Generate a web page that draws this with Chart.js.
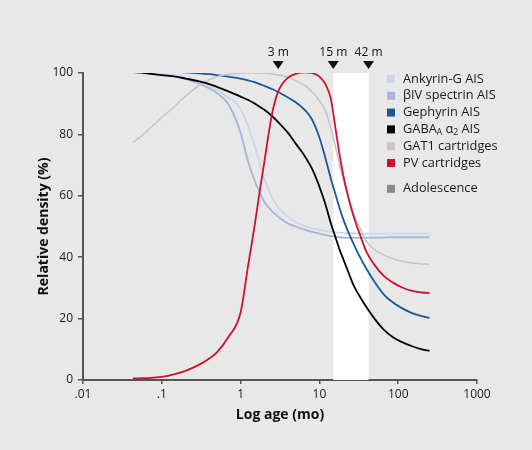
<!DOCTYPE html>
<html>
<head>
<meta charset="utf-8">
<script src="https://cdn.jsdelivr.net/npm/chart.js@4"></script>
<style>
  body { margin: 0; background: #e8e8e8; }
  canvas { display: block; }
</style>
</head>
<body>
<canvas id="myChart" width="532" height="450"></canvas>
<script>
// age in months (log axis)
const ages = [0.043, 0.06, 0.08, 0.1, 0.15, 0.2, 0.3, 0.4, 0.5, 0.7, 1, 1.25, 1.5, 1.75, 2, 2.5, 3, 4, 5, 6.5, 8, 10, 12, 14, 16, 18, 20, 23, 27, 32, 40, 50, 65, 85, 110, 150, 200, 250];

const ankyrinG = [100.3, 100.2, 100, 99.8, 99.2, 98.5, 97.2, 95.8, 94.5, 92, 88.3, 82.5, 76.5, 70.5, 65.5, 59.5, 56.2, 53.2, 51.5, 50.2, 49.4, 48.9, 48.5, 48.3, 48.1, 48, 47.9, 47.8, 47.8, 47.7, 47.7, 47.7, 47.7, 47.7, 47.7, 47.7, 47.7, 47.7];
const betaIV = [100.3, 100.2, 99.9, 99.6, 98.9, 98, 96.5, 95, 93.5, 89.8, 80.5, 71, 65, 61, 58, 55, 53.2, 51, 50, 49, 48.3, 47.7, 47.2, 46.9, 46.7, 46.5, 46.4, 46.3, 46.3, 46.3, 46.3, 46.4, 46.4, 46.5, 46.5, 46.5, 46.5, 46.5];
const gephyrin = [100.8, 100.8, 100.7, 100.6, 100.4, 100.2, 99.9, 99.6, 99.3, 98.8, 98.2, 97.6, 97, 96.4, 95.8, 94.8, 93.8, 92, 90.5, 88, 85, 79, 72, 65.5, 60.5, 56, 52.5, 48.5, 44.5, 40.5, 36, 32, 28, 25.3, 23.5, 21.8, 20.8, 20.2];
const gabaA2 = [100.3, 100, 99.6, 99.3, 98.8, 98.2, 97.3, 96.4, 95.5, 94, 92.3, 91.2, 90.1, 89, 88, 86, 84, 80.5, 77, 73, 69, 63, 57, 51, 46.5, 42.5, 39.5, 35.5, 31, 27.5, 23.5, 20, 16.5, 14, 12.4, 11, 10, 9.5];
const gat1 = [77.3, 80.3, 83.3, 85.5, 89.5, 92.5, 96, 97.8, 98.8, 99.6, 99.9, 100, 100, 100, 99.9, 99.7, 99.4, 98.6, 97.5, 96, 94, 91, 87.5, 82, 76, 70, 65.5, 60, 54.5, 50, 45, 42.5, 40.8, 39.6, 38.7, 38.1, 37.8, 37.7];
const pv = [0.5, 0.6, 0.8, 1, 2, 3, 5, 7, 9, 14, 22, 37.5, 50, 61.5, 71, 86.5, 94, 98.5, 99.7, 100.2, 100, 98.8, 96.2, 91.5, 82, 73.5, 67, 60, 53.5, 48, 41.5, 37.5, 34, 31.8, 30.2, 29, 28.5, 28.3];

const seriesLabels = ["Ankyrin-G AIS", "βIV spectrin AIS", "Gephyrin AIS", "GABAA α2 AIS", "GAT1 cartridges", "PV cartridges"];
const seriesColors = ["#cdd6e9", "#a6b6d6", "#17599a", "#000000", "#c6c6c6", "#cf1030"];

const xTicks = [0.01, 0.1, 1, 10, 100, 1000];
const xTickLabels = [".01", ".1", "1", "10", "100", "1000"];

const markerAges = [3, 15, 42];
const markerLabels = ["3 m", "15 m", "42 m"];
const adolescence = [15, 42];

const FONT = "'Open Sans', 'Noto Sans', sans-serif";

function toPoints(values) {
  return ages.map((a, i) => ({ x: a, y: values[i] }));
}

const allSeries = [ankyrinG, betaIV, gephyrin, gabaA2, gat1, pv];
const drawOrder = [4, 5, 3, 1, 2, 0]; // GAT1 underneath

const datasets = allSeries.map((vals, i) => ({
  label: seriesLabels[i],
  data: toPoints(vals),
  borderColor: seriesColors[i],
  borderWidth: i === 4 ? 1.6 : 1.8,
  pointRadius: 0,
  fill: false,
  cubicInterpolationMode: "monotone",
  order: drawOrder[i],
}));

// white band for adolescence
const bandPlugin = {
  id: "band",
  beforeDatasetsDraw(chart) {
    const { ctx, scales } = chart;
    const x0 = scales.x.getPixelForValue(adolescence[0]);
    const x1 = scales.x.getPixelForValue(adolescence[1]);
    const y0 = scales.y.getPixelForValue(100);
    const y1 = scales.y.getPixelForValue(0);
    ctx.save();
    ctx.fillStyle = "#ffffff";
    ctx.fillRect(x0, y0, x1 - x0, y1 - y0);
    ctx.restore();
  },
};

// arrows with ages above the plot
const markerPlugin = {
  id: "markers",
  afterDraw(chart) {
    const { ctx, scales } = chart;
    ctx.save();
    ctx.fillStyle = "#111";
    ctx.font = "12px " + FONT;
    ctx.textAlign = "center";
    ctx.textBaseline = "middle";
    markerAges.forEach((a, i) => {
      const x = scales.x.getPixelForValue(a);
      ctx.beginPath();
      ctx.moveTo(x - 5.5, 61);
      ctx.lineTo(x + 5.5, 61);
      ctx.lineTo(x, 69);
      ctx.closePath();
      ctx.fill();
      ctx.fillText(markerLabels[i], x, 53);
    });
    ctx.restore();
  },
};

// legend drawn by hand (sub-scripts + extra Adolescence entry)
const legendPlugin = {
  id: "customLegend",
  afterDraw(chart) {
    const { ctx } = chart;
    const rows = seriesLabels.map((l, i) => ({ label: l, color: seriesColors[i] }));
    rows.push({ label: "Adolescence", color: "#8a8a8a", gap: true });
    let y = 79;
    ctx.save();
    ctx.textBaseline = "middle";
    rows.forEach((r) => {
      if (r.gap) y += 9;
      ctx.fillStyle = r.color;
      ctx.fillRect(387, y - 4, 8, 8);
      ctx.fillStyle = "#1a1a1a";
      let x = 403;
      if (r.label === "GABAA α2 AIS") {
        const parts = [["GABA", 0], ["A", 1], [" α", 0], ["2", 1], [" AIS", 0]];
        parts.forEach(([t, sub]) => {
          ctx.font = (sub ? "8.5px " : "12.8px ") + FONT;
          ctx.fillText(t, x, sub ? y + 3 : y);
          x += ctx.measureText(t).width;
        });
      } else {
        ctx.font = "12.8px " + FONT;
        ctx.fillText(r.label, x, y);
      }
      y += 16.8;
    });
    ctx.restore();
  },
};

const config = {
  type: "line",
  data: { datasets: datasets },
  plugins: [bandPlugin, markerPlugin, legendPlugin],
  options: {
    responsive: false,
    animation: false,
    events: [],
    layout: { padding: { top: 73, right: 55, bottom: 0, left: 0 } },
    plugins: {
      legend: { display: false },
      tooltip: { enabled: false },
    },
    scales: {
      x: {
        type: "logarithmic",
        min: 0.01,
        max: 1000,
        afterBuildTicks: (scale) => {
          scale.ticks = xTicks.map((v) => ({ value: v }));
        },
        afterFit: (scale) => {
          scale.height = 70;
        },
        ticks: {
          autoSkip: false,
          maxRotation: 0,
          padding: 3,
          color: "#1a1a1a",
          font: { family: FONT, size: 12 },
          callback: (value) => {
            const idx = xTicks.indexOf(value);
            return idx >= 0 ? xTickLabels[idx] : "";
          },
        },
        grid: { drawOnChartArea: false, tickLength: 4, color: "#555", lineWidth: 1.5 },
        border: { color: "#555", width: 2 },
        title: {
          display: true,
          text: "Log age (mo)",
          color: "#111",
          font: { family: FONT, size: 14, weight: "bold" },
          padding: { top: 0, bottom: 27 },
        },
      },
      y: {
        min: 0,
        max: 100,
        afterFit: (scale) => {
          scale.width = 83;
        },
        ticks: {
          stepSize: 20,
          padding: 5,
          color: "#1a1a1a",
          font: { family: FONT, size: 12 },
        },
        grid: { drawOnChartArea: false, tickLength: 5, color: "#555", lineWidth: 1.5 },
        border: { color: "#555", width: 2 },
        title: {
          display: true,
          text: "Relative density (%)",
          color: "#111",
          font: { family: FONT, size: 14, weight: "bold" },
          padding: { top: 36, bottom: 0 },
        },
      },
    },
  },
};

const myChart = new Chart(document.getElementById("myChart"), config);
</script>
</body>
</html>
